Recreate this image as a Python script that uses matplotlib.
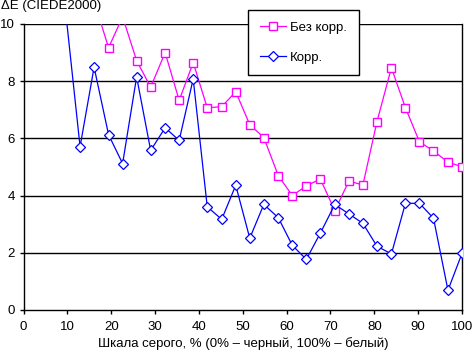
import matplotlib
matplotlib.use("Agg")
import matplotlib.pyplot as plt

plt.rcParams['font.family'] = ['Liberation Sans', 'DejaVu Sans']

x_nocorr = [16.1, 19.4, 22.6, 25.8, 29.0, 32.3, 35.5, 38.7, 41.9, 45.2, 48.4,
            51.6, 54.8, 58.1, 61.3, 64.5, 67.7, 71.0, 74.2, 77.4, 80.6, 83.9,
            87.1, 90.3, 93.5, 96.8, 100.0]
y_nocorr = [10.8, 9.17, 10.25, 8.72, 7.79, 9.0, 7.33, 8.65, 7.07, 7.11, 7.63,
            6.48, 6.03, 4.70, 4.0, 4.34, 4.58, 3.47, 4.51, 4.37, 6.58, 8.47,
            7.07, 5.88, 5.56, 5.17, 5.01]

x_corr = [9.7, 12.9, 16.1, 19.4, 22.6, 25.8, 29.0, 32.3, 35.5, 38.7, 41.9,
          45.2, 48.4, 51.6, 54.8, 58.1, 61.3, 64.5, 67.7, 71.0, 74.2, 77.4,
          80.6, 83.9, 87.1, 90.3, 93.5, 96.8, 100.0]
y_corr = [10.3, 5.71, 8.49, 6.13, 5.12, 8.15, 5.58, 6.37, 5.93, 8.08, 3.61,
          3.17, 4.36, 2.51, 3.69, 3.23, 2.26, 1.77, 2.69, 3.69, 3.36, 3.03,
          2.23, 1.96, 3.73, 3.73, 3.21, 0.69, 1.98]

x_ticks = [0, 10, 20, 30, 40, 50, 60, 70, 80, 90, 100]
y_ticks = [0, 2, 4, 6, 8, 10]

FS = 9.5
W, H = 472, 353
fig = plt.figure(figsize=(W / 100, H / 100), dpi=100)
ax = fig.add_axes([23.5 / W, 1 - 310 / H, (462 - 23.5) / W, (310 - 24) / H])

ax.set_xlim(0, 100)
ax.set_ylim(0, 10)
for yv in y_ticks[1:]:
    ax.axhline(yv, color='black', lw=1.0, zorder=1)

ax.plot(x_nocorr, y_nocorr, color='#FF00FF', lw=0.9, marker='s', ms=5.5,
        mfc='white', mec='#FF00FF', mew=1.0, label='Без корр.', zorder=3)
ax.plot(x_corr, y_corr, color='#0000FF', lw=0.9, marker='D', ms=5.5,
        mfc='white', mec='#0000FF', mew=0.9, label='Корр.', zorder=4)

ax.set_xticks(x_ticks)
ax.set_yticks(y_ticks)
ax.tick_params(axis='x', direction='out', length=3, width=1, labelsize=FS,
               colors='black', pad=5)
ax.tick_params(axis='y', direction='out', length=3, width=1, labelsize=FS,
               colors='black', pad=3)
for s in ['left', 'bottom', 'right']:
    ax.spines[s].set_linewidth(1.0)
    ax.spines[s].set_color('black')
ax.spines['top'].set_visible(False)

ax.set_xlabel('Шкала серого, % (0% – черный, 100% – белый)', fontsize=FS,
              labelpad=3)
fig.text(1 / W, 1 - 6 / H, 'ΔE (CIEDE2000)', fontsize=FS, va='center',
         ha='left')

leg = ax.legend(loc='upper left', bbox_to_anchor=((248 - 23.5) / (462 - 23.5),
                (310 - 10) / (310 - 24)), frameon=True, fancybox=False,
                edgecolor='black', framealpha=1, fontsize=FS,
                handlelength=2.0, handletextpad=0.3, borderpad=0.9,
                labelspacing=1.3, borderaxespad=0)
leg.get_frame().set_linewidth(1.0)
leg.set_zorder(10)

fig.savefig('out.png', dpi=100)
